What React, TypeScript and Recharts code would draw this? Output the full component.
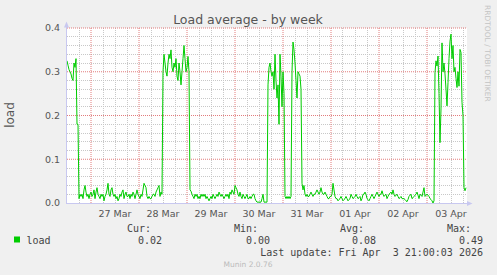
import React from 'react';
import { LineChart, Line, XAxis, YAxis, CartesianGrid, ReferenceLine } from 'recharts';

// ---- data (30-minute samples, 26 Mar 12:00 -> 03 Apr 20:00) ----
const mar26Peak = [0.325, 0.315, 0.305, 0.3, 0.295, 0.285, 0.28, 0.32, 0.31, 0.33, 0.18, 0.18];
const quiet1 = [
  0.01, 0.02, 0.015, 0.02, 0.01, 0.03, 0.04, 0.025, 0.015, 0.02,
  0.01, 0.02, 0.025, 0.015, 0.02, 0.03, 0.01, 0.025, 0.035, 0.02,
  0.015, 0.01, 0.02, 0.015, 0.02, 0.005, 0.015, 0.02, 0.03, 0.045,
  0.02, 0.015, 0.03, 0.035, 0.02, 0.015, 0.02, 0.01, 0.015, 0.005,
  0.01, 0.02, 0.015, 0.025, 0.03, 0.01, 0.02, 0.025, 0.015, 0.015,
  0.02, 0.01, 0.02, 0.015, 0.025, 0.02, 0.01, 0.02, 0.03, 0.02,
  0.015, 0.01, 0.02, 0.015, 0.03, 0.045, 0.04, 0.035, 0.015, 0.01,
  0.015, 0.01, 0.01, 0.015, 0.02, 0.02, 0.015, 0.025, 0.03, 0.035,
  0.04, 0.015, 0.025, 0.02,
];
const mar28Peak = [
  0.3, 0.34, 0.32, 0.3, 0.29, 0.32, 0.34, 0.33, 0.35, 0.31,
  0.3, 0.32, 0.31, 0.33, 0.29, 0.28, 0.32, 0.3, 0.27, 0.3,
  0.33, 0.36, 0.33, 0.3, 0.31, 0.335, 0.3,
];
const quiet2 = [
  0.03, 0.027, 0.02, 0.015, 0.01, 0.02, 0.015, 0.02, 0.01, 0.015,
  0.01, 0.02, 0.015, 0.02, 0.015, 0.02, 0.01, 0.015, 0.01, 0.005,
  0.01, 0.015, 0.01, 0.02, 0.015, 0.01, 0.015, 0.02, 0.015, 0.025,
  0.02, 0.015, 0.02, 0.015, 0.01, 0.015, 0.02, 0.015, 0.02, 0.01,
  0.025, 0.02, 0.03, 0.025, 0.02, 0.04, 0.035, 0.03, 0.02, 0.015,
  0.025, 0.015, 0.01, 0.02, 0.015, 0.01, 0.015, 0.02, 0.01, 0.01,
  0.015, 0.01, 0.015, 0.02, 0.02, 0.01, 0.005, 0.002, 0.002, 0.002,
  0.002, 0.002, 0.01, 0.02, 0.002, 0.002, 0.002, 0.002,
];
const mar30Peak = [
  0.27, 0.31, 0.32, 0.3, 0.29, 0.3, 0.26, 0.34, 0.28, 0.24,
  0.27, 0.18, 0.34, 0.29, 0.22, 0.3, 0.25, 0.015, 0.01, 0.015,
  0.01, 0.015, 0.01, 0.015, 0.3, 0.368, 0.35, 0.32, 0.28, 0.24,
  0.3, 0.295, 0.29, 0.26,
];
const quiet3 = [
  0.045, 0.03, 0.04, 0.02, 0.015, 0.02, 0.015, 0.015, 0.02, 0.025,
  0.02, 0.015, 0.02, 0.02, 0.025, 0.03, 0.025, 0.02, 0.025, 0.035,
  0.025, 0.02, 0.02, 0.025, 0.02, 0.015, 0.01, 0.01, 0.015, 0.015,
  0.02, 0.045, 0.03, 0.015, 0.01, 0.01, 0.005, 0.008, 0.01, 0.015,
  0.01, 0.005, 0.008, 0.01, 0.015, 0.01, 0.005, 0.008, 0.01, 0.02,
  0.015, 0.01, 0.012, 0.015, 0.02, 0.015, 0.01, 0.012, 0.015, 0.005,
  0.01, 0.02, 0.02, 0.025, 0.02, 0.01, 0.008, 0.005, 0.01, 0.015,
  0.02, 0.015, 0.01, 0.015, 0.02, 0.025, 0.02, 0.015, 0.02, 0.02,
  0.028, 0.02, 0.015, 0.018, 0.02, 0.01, 0.015, 0.02, 0.022, 0.025,
  0.02, 0.03, 0.02, 0.015, 0.018, 0.02, 0.015, 0.01, 0.012, 0.015,
  0.01, 0.01, 0.01, 0.008, 0.005, 0.003, 0.008, 0.015, 0.018, 0.02,
  0.01, 0.012, 0.015, 0.018, 0.02, 0.025, 0.018, 0.01, 0.02, 0.018,
  0.015, 0.025, 0.035, 0.015, 0.018, 0.02, 0.018, 0.015, 0.01, 0.008,
  0.005, 0.0, 0.005,
];
const apr03Peak = [
  0.298, 0.325, 0.313, 0.336, 0.25, 0.138, 0.215, 0.366, 0.3, 0.32,
  0.295, 0.26, 0.222, 0.275, 0.33, 0.37, 0.386, 0.33, 0.36, 0.3,
  0.31, 0.285, 0.264, 0.3, 0.267, 0.351, 0.344, 0.23, 0.2, 0.035,
  0.028, 0.035,
];
const loads = [...mar26Peak, ...quiet1, ...mar28Peak, ...quiet2, ...mar30Peak, ...quiet3, ...apr03Peak];

const dayLabels = ['27 Mar', '28 Mar', '29 Mar', '30 Mar', '31 Mar', '01 Apr', '02 Apr', '03 Apr'];
const yTicks = [0, 0.1, 0.2, 0.3, 0.4];
const statHeads = ['Cur:', 'Min:', 'Avg:', 'Max:'];
const statValues = ['0.02', '0.00', '0.08', '0.49'];
const seriesName = 'load';
const title = 'Load average - by week';
const lastUpdate = 'Last update: Fri Apr  3 21:00:03 2026';

// ---- derived ----
const X_DOMAIN: [number, number] = [0, 400];
const Y_DOMAIN: [number, number] = [0, 0.4];
const data = loads.map((v, i) => ({ t: i, load: v }));
const SLOTS_PER_DAY = 48;
const labelTicks = dayLabels.map((_, k) => SLOTS_PER_DAY + SLOTS_PER_DAY * k);
const majorX = dayLabels.map((_, k) => SLOTS_PER_DAY / 2 + SLOTS_PER_DAY * k);
const minorX: number[] = [];
for (let t = 12; t < 400; t += 12) if (!majorX.includes(t)) minorX.push(t);
const majorY = [0.1, 0.2, 0.3, 0.4];
const minorY: number[] = [];
for (let k = 1; k < 20; k++) if (k % 5 !== 0) minorY.push(+(k * 0.02).toFixed(2));

const FONT = '"DejaVu Sans", sans-serif';
const MONO = '"DejaVu Sans Mono", monospace';
const TXT = '#555';
const AXIS = '#c8c8f0';
const MAJOR = '#e27c7c';
const MINOR = '#c8c8c8';

const headX = [127, 234, 340, 447];
const valX = [138, 246, 352, 459];

const snap = (p: number) => Math.round(p - 0.5) + 0.5;
const applyScale = (sc: any, v: number): number | null => {
  try {
    if (typeof sc === 'function') return sc(v);
    if (sc && typeof sc.map === 'function') return sc.map(v);
  } catch (e) {
    /* ignore */
  }
  return null;
};
const vGen = (vals: number[]) => (props: any) => {
  const off = props?.offset || {};
  return vals.map((v) => {
    const p = applyScale(props?.xAxis?.scale, v);
    const px = typeof p === 'number' && isFinite(p)
      ? p
      : off.left + ((v - X_DOMAIN[0]) / (X_DOMAIN[1] - X_DOMAIN[0])) * off.width;
    return snap(px);
  });
};
const hGen = (vals: number[]) => (props: any) => {
  const off = props?.offset || {};
  return vals.map((v) => {
    const p = applyScale(props?.yAxis?.scale, v);
    const py = typeof p === 'number' && isFinite(p)
      ? p
      : off.top + (1 - (v - Y_DOMAIN[0]) / (Y_DOMAIN[1] - Y_DOMAIN[0])) * off.height;
    return snap(py);
  });
};

export default function App() {
  return (
    <div style={{ position: 'fixed', left: 0, top: 0, width: 497, height: 275, background: '#f0f0f0', overflow: 'hidden' }}>
      <LineChart width={497} height={275} data={data} margin={{ top: 28, right: 30, bottom: 42, left: 7 }}>
        <CartesianGrid
          horizontalCoordinatesGenerator={hGen(minorY)}
          verticalCoordinatesGenerator={vGen(minorX)}
          stroke={MINOR}
          strokeDasharray="1 1"
          fill="#ffffff"
        />
        {majorX.map((v) => (
          <ReferenceLine key={`mx${v}`} x={v} stroke={MAJOR} strokeDasharray="1 1" strokeWidth={1} />
        ))}
        {majorY.map((v) => (
          <ReferenceLine key={`my${v}`} y={v} stroke={MAJOR} strokeDasharray="1 1" strokeWidth={1} />
        ))}
        <XAxis
          dataKey="t"
          type="number"
          domain={X_DOMAIN}
          ticks={labelTicks}
          tickFormatter={(v: number) => dayLabels[(v - SLOTS_PER_DAY) / SLOTS_PER_DAY]}
          axisLine={false}
          tickLine={false}
          tickSize={6}
          tickMargin={1}
          height={30}
          allowDataOverflow
          tick={{ fill: TXT, fontSize: 9.5, fontFamily: FONT }}
        />
        <YAxis
          type="number"
          domain={Y_DOMAIN}
          ticks={yTicks}
          tickFormatter={(v: number) => v.toFixed(1)}
          axisLine={false}
          tickLine={false}
          tickSize={5}
          tickMargin={2}
          width={60}
          tick={{ fill: TXT, fontSize: 9.5, fontFamily: FONT }}
        />
        <Line
          type="linear"
          dataKey="load"
          stroke="#00cc00"
          strokeWidth={1}
          dot={false}
          isAnimationActive={false}
        />
      </LineChart>
      <svg width={497} height={275} style={{ position: 'absolute', left: 0, top: 0, pointerEvents: 'none' }}>
        <text x={248} y={24} textAnchor="middle" fontFamily={FONT} fontSize={12.5} fill={TXT}>{title}</text>
        <text transform="translate(14,115) rotate(-90)" textAnchor="middle" fontFamily={FONT} fontSize={12} fill={TXT}>{seriesName}</text>
        <text transform="translate(485,5) rotate(90)" fontFamily={FONT} fontSize={7.5} fill="#c4c4c4">RRDTOOL / TOBI OETIKER</text>
        <line x1={66.5} y1={27} x2={66.5} y2={203.5} stroke={AXIS} />
        <polygon points="66.5,21.5 64,27.5 69,27.5" fill={AXIS} />
        <line x1={66} y1={203.5} x2={468} y2={203.5} stroke={AXIS} />
        <polygon points="472.5,203.5 467,201 467,206" fill={AXIS} />
        {statHeads.map((h, k) => (
          <text key={h} x={headX[k]} y={231.5} fontFamily={MONO} fontSize={10} fill="#444">{h}</text>
        ))}
        <rect x={14} y={236.5} width={6} height={6} fill="#00cc00" />
        <text x={26.5} y={243.5} fontFamily={MONO} fontSize={10} fill="#444">{seriesName}</text>
        {statValues.map((v, k) => (
          <text key={k} x={valX[k]} y={243.5} fontFamily={MONO} fontSize={10} fill="#444">{v}</text>
        ))}
        <text x={483} y={255.5} textAnchor="end" fontFamily={MONO} fontSize={10} fill="#444" style={{ whiteSpace: 'pre' }}>{lastUpdate}</text>
        <text x={248} y={267} textAnchor="middle" fontFamily={FONT} fontSize={7.5} fill="#bbbbbb">Munin 2.0.76</text>
      </svg>
    </div>
  );
}
